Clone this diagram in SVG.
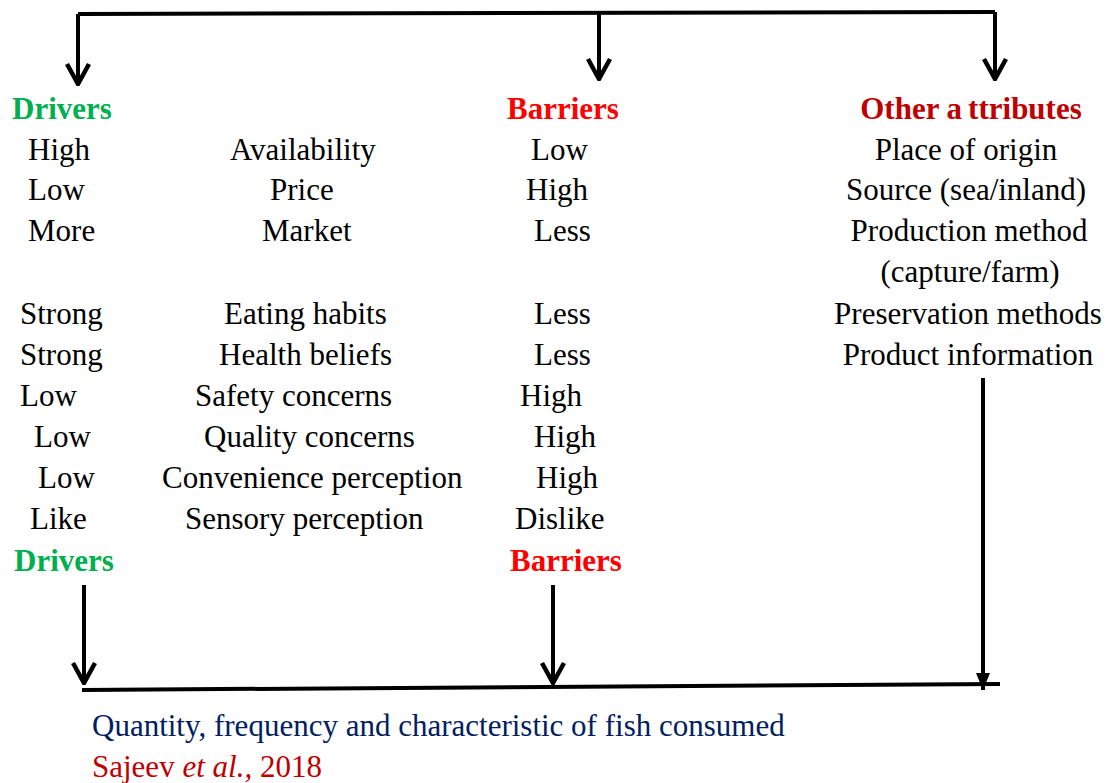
<svg xmlns="http://www.w3.org/2000/svg" width="1107" height="783" viewBox="0 0 1107 783">
<style>
.t{font-family:"Liberation Serif","Times New Roman",serif;font-size:31px;fill:#000}
.b{font-weight:bold}
.g{fill:#00B050}
.r{fill:#FF0000}
.dr{fill:#C00000}
.nv{fill:#002060}
.m{text-anchor:middle}
.ln{stroke:#000;stroke-width:4;fill:none}
</style>
<defs>
<marker id="chev" viewBox="-24 -13 26 26" refX="0" refY="0" markerWidth="26" markerHeight="26" markerUnits="userSpaceOnUse" orient="auto">
<path d="M-20,-11 L0,0 L-20,11" fill="none" stroke="#000" stroke-width="4.5"/>
</marker>
<marker id="tri" viewBox="-18 -8 19 16" refX="0" refY="0" markerWidth="19" markerHeight="16" markerUnits="userSpaceOnUse" orient="auto">
<path d="M-17,-7 L0,0 L-17,7 Z" fill="#000"/>
</marker>
</defs>
<rect width="1107" height="783" fill="#fff"/>
<g id="connectors">
<path class="ln" d="M78,14 L995,12"/>
<path class="ln" d="M78,14 L78,84" marker-end="url(#chev)"/>
<path class="ln" d="M599,13 L599,79" marker-end="url(#chev)"/>
<path class="ln" d="M995,12 L995,79" marker-end="url(#chev)"/>
<path class="ln" d="M84,585 L84,683" marker-end="url(#chev)"/>
<path class="ln" d="M553,585 L553,683" marker-end="url(#chev)"/>
<path class="ln" d="M983,378 L983,690" stroke-width="5" marker-end="url(#tri)"/>
<path class="ln" d="M82,690 L1000,684" stroke-width="5"/>
</g>
<g id="drivers">
<text class="t b g" x="12" y="119">Drivers</text>
<text class="t" x="28" y="160">High</text>
<text class="t" x="28" y="200">Low</text>
<text class="t" x="28" y="241">More</text>
<text class="t" x="20" y="324">Strong</text>
<text class="t" x="20" y="365">Strong</text>
<text class="t" x="20" y="406">Low</text>
<text class="t" x="34" y="447">Low</text>
<text class="t" x="38" y="488">Low</text>
<text class="t" x="30" y="529">Like</text>
<text class="t b g" x="14" y="571">Drivers</text>
</g>
<g id="factors">
<text class="t" x="230" y="160">Availability</text>
<text class="t" x="270" y="200">Price</text>
<text class="t" x="262" y="241">Market</text>
<text class="t" x="224" y="324">Eating habits</text>
<text class="t" x="219" y="365">Health beliefs</text>
<text class="t" x="195" y="406">Safety concerns</text>
<text class="t" x="204" y="447">Quality concerns</text>
<text class="t" x="162" y="488">Convenience perception</text>
<text class="t" x="185" y="529">Sensory perception</text>
</g>
<g id="barriers">
<text class="t b r" x="507" y="119">Barriers</text>
<text class="t" x="531" y="160">Low</text>
<text class="t" x="526" y="200">High</text>
<text class="t" x="534" y="241">Less</text>
<text class="t" x="534" y="324">Less</text>
<text class="t" x="534" y="365">Less</text>
<text class="t" x="520" y="406">High</text>
<text class="t" x="534" y="447">High</text>
<text class="t" x="536" y="488">High</text>
<text class="t" x="515" y="529">Dislike</text>
<text class="t b r" x="510" y="571">Barriers</text>
</g>
<g id="other-attributes">
<text class="t b dr m" x="971" y="119">Other a<tspan dx="6">ttributes</tspan></text>
<text class="t m" x="966" y="160">Place of origin</text>
<text class="t m" x="966" y="200">Source (sea/inland)</text>
<text class="t m" x="969" y="241">Production method</text>
<text class="t m" x="970" y="282">(capture/farm)</text>
<text class="t m" x="968" y="324">Preservation methods</text>
<text class="t m" x="968" y="365">Product information</text>
</g>
<g id="outcome">
<text class="t nv" x="92" y="736">Quantity, frequency and characteristic of fish consumed</text>
<text class="t dr" x="92" y="777">Sajeev <tspan font-style="italic">et al.,</tspan> 2018</text>
</g>
</svg>
